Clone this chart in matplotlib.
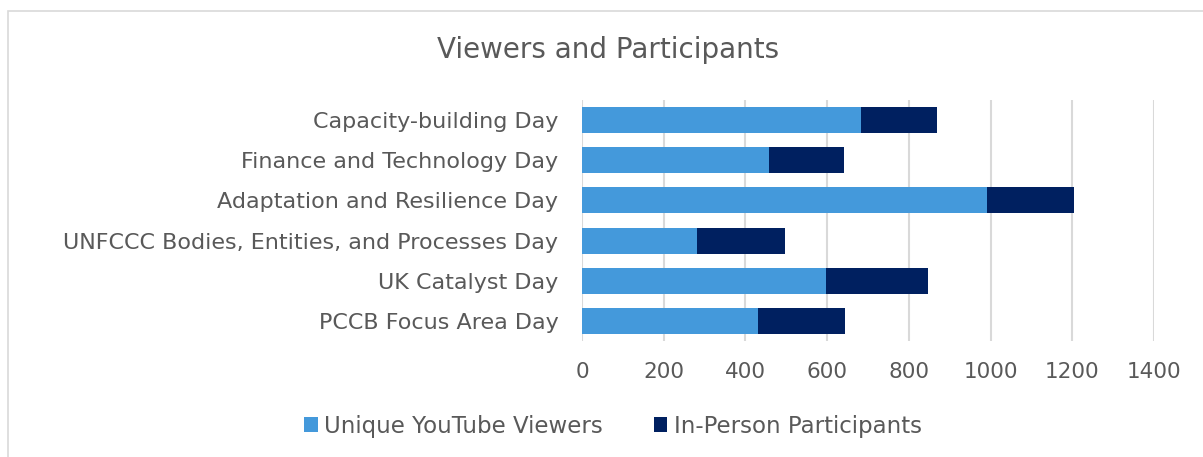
import matplotlib.pyplot as plt
import matplotlib.patches as mpatches
import numpy as np

categories = ['Capacity-building Day', 'Finance and Technology Day', 'Adaptation and Resilience Day',
              'UNFCCC Bodies, Entities, and Processes Day', 'UK Catalyst Day', 'PCCB Focus Area Day']
youtube_viewers = [684, 458, 992, 281, 596, 430]
in_person = [184, 184, 213, 215, 250, 214]

blue = '#4499DB'
navy = '#002060'
grey_text = '#595959'

plt.rcParams['font.family'] = ['DejaVu Sans']

fig = plt.figure(figsize=(12.03, 4.57), dpi=100)
ax = fig.add_axes([582 / 1203, 1 - 341 / 457, (1154 - 582) / 1203, 241 / 457])

y = np.arange(len(categories))
ax.barh(y, youtube_viewers, height=0.65, color=blue, label='Unique YouTube Viewers', zorder=3)
ax.barh(y, in_person, left=youtube_viewers, height=0.65, color=navy, label='In-Person Participants', zorder=3)

ax.set_ylim(len(categories) - 0.5, -0.5)
ax.set_xlim(0, 1400)
ax.set_xticks(range(0, 1401, 200))
ax.set_yticks(y)
ax.set_yticklabels(categories)
ax.grid(axis='x', color='#D9D9D9', linewidth=1.5, zorder=0)
for s in ax.spines.values():
    s.set_visible(False)
ax.tick_params(axis='both', length=0, labelcolor=grey_text)
ax.tick_params(axis='x', pad=15, labelsize=15.5)
ax.tick_params(axis='y', pad=17, labelsize=16)

fig.text(608 / 1203, 1 - 50 / 457, 'Viewers and Participants', ha='center', va='center',
         fontsize=20, color=grey_text)

fig.legend(loc='center', bbox_to_anchor=(613 / 1203, 1 - 426 / 457), ncol=2, frameon=False,
           fontsize=16.5, labelcolor=grey_text, handlelength=0.6, handleheight=0.6,
           handletextpad=0.3, columnspacing=2.2)

border = mpatches.Rectangle((8 / 1203, -0.01), 1.02, 1 - 11 / 457 + 0.01, transform=fig.transFigure,
                            fill=False, edgecolor='#D9D9D9', linewidth=1.2)
fig.add_artist(border)

fig.savefig('out.png', dpi=100)
